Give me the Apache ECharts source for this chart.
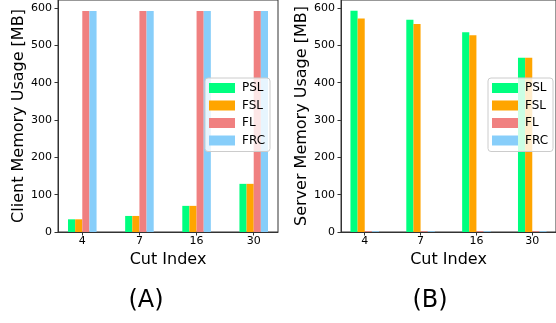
<!DOCTYPE html>
<html>
<head>
<meta charset="utf-8">
<script src="https://cdn.jsdelivr.net/npm/echarts@6/dist/echarts.min.js"></script>
<style>
  html, body { margin: 0; padding: 0; background: #fff; }
  #main { width: 556px; height: 323px; }
</style>
</head>
<body>
<div id="main"></div>
<script>
// 数据
var cutIndex = ['4', '7', '16', '30'];
var yTicks = [0, 100, 200, 300, 400, 500, 600];
var seriesNames = ['PSL', 'FSL', 'FL', 'FRC'];

var clientPSL = [34, 43, 70, 129];
var clientFSL = [34, 43, 70, 129];
var clientFL = [592, 592, 592, 592];
var clientFRC = [592, 592, 592, 592];

var serverPSL = [593, 569, 535, 467];
var serverFSL = [572, 557, 527, 467];
var serverFL = [2, 2, 2, 2];
var serverFRC = [2, 2, 2, 2];

var colors = ['#00FF7F', '#FFA500', '#F08080', '#87CEFA'];
var tickPos = cutIndex.map(function (c, i) { return i; });

var chartDom = document.getElementById('main');
var chart = echarts.init(chartDom);

function pairs(values) {
    return values.map(function (v, i) { return [tickPos[i], v]; });
}

function makeX(idx) {
    return {
        type: 'value',
        gridIndex: idx,
        min: -0.425,
        max: 3.425,
        name: 'Cut Index',
        nameLocation: 'middle',
        nameGap: 15,
        nameTextStyle: { fontFamily: 'DejaVu Sans', fontSize: 16, color: '#000' },
        axisLine: { onZero: false, lineStyle: { color: '#333', width: 1 } },
        axisTick: { show: true, customValues: tickPos, length: 3.5, lineStyle: { color: '#333' } },
        axisLabel: {
            customValues: tickPos,
            margin: 4,
            fontFamily: 'DejaVu Sans', fontSize: 11, color: '#000',
            formatter: function (v) { return cutIndex[Math.round(v)]; }
        },
        splitLine: { show: false }
    };
}

function makeY(idx, title) {
    return {
        type: 'value',
        gridIndex: idx,
        min: 0,
        max: 621.6,
        name: title,
        nameLocation: 'middle',
        nameGap: 28,
        nameTextStyle: { fontFamily: 'DejaVu Sans', fontSize: 16, color: '#000' },
        // 不要让y轴线跟着x=0走
        axisLine: { show: true, onZero: false, lineStyle: { color: '#333', width: 1 } },
        axisTick: { show: true, customValues: yTicks, length: 3.5, lineStyle: { color: '#333' } },
        axisLabel: {
            customValues: yTicks,
            margin: 6,
            fontFamily: 'DejaVu Sans', fontSize: 11, color: '#000'
        },
        splitLine: { show: false }
    };
}

function makeBar(name, idx, values, color) {
    return {
        name: name,
        type: 'bar',
        xAxisIndex: idx,
        yAxisIndex: idx,
        data: pairs(values),
        barWidth: 7.14,
        barGap: '0%',
        itemStyle: { color: color },
        emphasis: { disabled: true }
    };
}

function makeLegend(left) {
    return {
        data: seriesNames,
        orient: 'vertical',
        left: left,
        top: 78,
        icon: 'rect',
        itemWidth: 26,
        itemHeight: 10,
        itemGap: 5.5,
        padding: [4, 5, 5, 4],
        backgroundColor: 'rgba(255,255,255,0.8)',
        borderColor: '#cccccc',
        borderWidth: 1,
        borderRadius: 3,
        textStyle: { fontFamily: 'DejaVu Sans', fontSize: 12, color: '#000', padding: [0, 0, 0, 2] }
    };
}

var option = {
    animation: false,
    color: colors,
    grid: [
        { left: 58, top: 0, width: 220, height: 232, show: true, borderColor: '#333', borderWidth: 1 },
        { left: 341, top: 0, width: 220, height: 232, show: true, borderColor: '#333', borderWidth: 1 }
    ],
    xAxis: [makeX(0), makeX(1)],
    yAxis: [makeY(0, 'Client Memory Usage [MB]'), makeY(1, 'Server Memory Usage [MB]')],
    legend: [makeLegend(205), makeLegend(488)],
    title: [
        { text: '(A)', left: 141, top: 284, textAlign: 'center',
          textStyle: { fontFamily: 'DejaVu Sans', fontSize: 24, fontWeight: 'normal', color: '#000' } },
        { text: '(B)', left: 425, top: 284, textAlign: 'center',
          textStyle: { fontFamily: 'DejaVu Sans', fontSize: 24, fontWeight: 'normal', color: '#000' } }
    ],
    series: [
        makeBar('PSL', 0, clientPSL, colors[0]),
        makeBar('FSL', 0, clientFSL, colors[1]),
        makeBar('FL', 0, clientFL, colors[2]),
        makeBar('FRC', 0, clientFRC, colors[3]),
        makeBar('PSL', 1, serverPSL, colors[0]),
        makeBar('FSL', 1, serverFSL, colors[1]),
        makeBar('FL', 1, serverFL, colors[2]),
        makeBar('FRC', 1, serverFRC, colors[3])
    ]
};

chart.setOption(option);
</script>
</body>
</html>
